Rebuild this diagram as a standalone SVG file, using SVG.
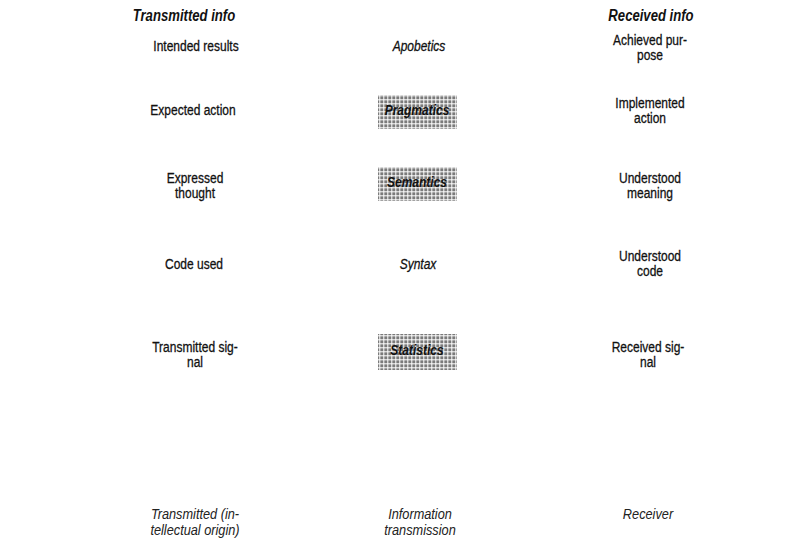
<svg xmlns="http://www.w3.org/2000/svg" width="805" height="555" viewBox="0 0 805 555">
<defs>
<pattern id="dots" width="4" height="4" patternUnits="userSpaceOnUse">
<rect width="4" height="4" fill="#ffffff"/>
<rect x="0.3" y="0.3" width="3" height="3" fill="#7a7a7a"/>
</pattern>
</defs>
<style>
text{font-family:"Liberation Sans",Arial,sans-serif;text-anchor:middle;fill:#111;}
.h{font-size:16px;font-weight:bold;font-style:italic;}
.t{font-size:15px;stroke:#111;stroke-width:0.3;}
.m{font-size:15px;font-style:italic;stroke:#111;stroke-width:0.3;}
.mb{font-size:15px;font-style:italic;font-weight:bold;}
.b{font-size:15px;font-style:italic;fill:#222;}
.box{fill:url(#dots);}
</style>
<rect width="805" height="555" fill="#ffffff"/>
<g id="headers">
<g transform="translate(184,21) scale(0.82,1)"><text class="h">Transmitted info</text></g>
<g transform="translate(651,21) scale(0.82,1)"><text class="h">Received info</text></g>
</g>
<g id="left">
<g id="intended" transform="translate(196,51) scale(0.8,1)"><text class="t">Intended results</text></g>
<g id="expected" transform="translate(193,115) scale(0.8,1)"><text class="t">Expected action</text></g>
<g id="expressed" transform="translate(195,183) scale(0.8,1)"><text class="t">Expressed</text><text class="t" y="15">thought</text></g>
<g id="codeused" transform="translate(194,269) scale(0.8,1)"><text class="t">Code used</text></g>
<g id="tsignal" transform="translate(195,352) scale(0.8,1)"><text class="t">Transmitted sig-</text><text class="t" y="15">nal</text></g>
</g>
<g id="middle">
<g id="apobetics"><g transform="translate(419,51) scale(0.8,1)"><text class="m">Apobetics</text></g></g>
<g id="pragmatics"><rect class="box" x="378" y="95" width="79" height="34"/><g transform="translate(417,115) scale(0.8,1)"><text class="mb">Pragmatics</text></g></g>
<g id="semantics"><rect class="box" x="378" y="167" width="79" height="34"/><g transform="translate(417,187) scale(0.8,1)"><text class="mb">Semantics</text></g></g>
<g id="syntax"><g transform="translate(418,269) scale(0.8,1)"><text class="m">Syntax</text></g></g>
<g id="statistics"><rect class="box" x="378" y="334" width="79" height="36"/><g transform="translate(417,355) scale(0.8,1)"><text class="mb">Statistics</text></g></g>
</g>
<g id="right">
<g id="achieved" transform="translate(650,45) scale(0.8,1)"><text class="t">Achieved pur-</text><text class="t" y="15">pose</text></g>
<g id="implemented" transform="translate(650,108) scale(0.8,1)"><text class="t">Implemented</text><text class="t" y="15">action</text></g>
<g id="meaning" transform="translate(650,183) scale(0.8,1)"><text class="t">Understood</text><text class="t" y="15">meaning</text></g>
<g id="ucode" transform="translate(650,261) scale(0.8,1)"><text class="t">Understood</text><text class="t" y="15">code</text></g>
<g id="rsignal" transform="translate(648,352) scale(0.8,1)"><text class="t">Received sig-</text><text class="t" y="15">nal</text></g>
</g>
<g id="footer">
<g transform="translate(195,519) scale(0.85,1)"><text class="b">Transmitted (in-</text><text class="b" y="16">tellectual origin)</text></g>
<g transform="translate(420,519) scale(0.85,1)"><text class="b">Information</text><text class="b" y="16">transmission</text></g>
<g transform="translate(648,519) scale(0.85,1)"><text class="b">Receiver</text></g>
</g>
<g id="connectors"></g>
</svg>
